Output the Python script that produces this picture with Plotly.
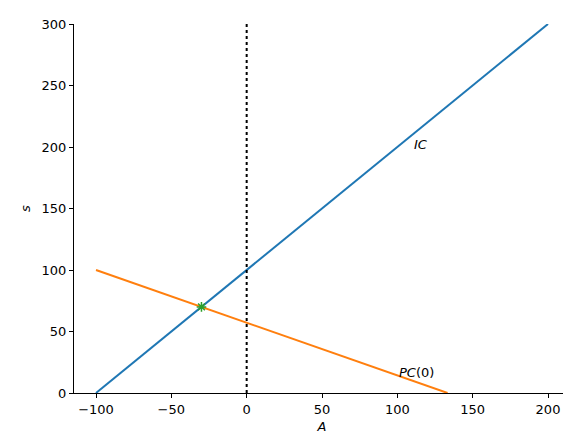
import plotly.graph_objects as go

# data
ic_A = [-100, 200]
ic_s = [0, 300]
pc_A = [-100, 133.33]
pc_s = [100, 0]
eq_A = [-30]
eq_s = [70]
vline_A = [0, 0]
vline_s = [0, 300]

fig = go.Figure()
fig.add_trace(go.Scatter(x=ic_A, y=ic_s, mode='lines', line=dict(color='#1f77b4', width=2)))
fig.add_trace(go.Scatter(x=pc_A, y=pc_s, mode='lines', line=dict(color='#ff7f0e', width=2)))
fig.add_trace(go.Scatter(x=vline_A, y=vline_s, mode='lines', line=dict(color='black', width=2, dash='dot')))
fig.add_trace(go.Scatter(x=eq_A, y=eq_s, mode='markers',
                         marker=dict(symbol='asterisk-open', size=8, color='#2ca02c', line=dict(width=1.5, color='#2ca02c'))))

fig.add_annotation(x=110, y=202, text='<i>IC</i>', showarrow=False, xanchor='left', font=dict(size=13, color='black'))
fig.add_annotation(x=100, y=17, text='<i>PC</i>(0)', showarrow=False, xanchor='left', font=dict(size=13, color='black'))

axis = dict(showgrid=False, zeroline=False, showline=True, linecolor='black', linewidth=1, automargin=False,
            ticks='outside', ticklen=4, tickcolor='black', tickfont=dict(size=13, color='black'))
fig.update_layout(
    width=571, height=438, showlegend=False,
    plot_bgcolor='white', paper_bgcolor='white',
    font=dict(family='DejaVu Sans', color='black'),
    margin=dict(l=66, r=9, t=16, b=53),
    xaxis=dict(axis, range=[-114.6, 214.6], tickvals=[-100, -50, 0, 50, 100, 150, 200],
               ticktext=['\u2212100', '\u221250', '0', '50', '100', '150', '200'],
               title=dict(text='<i>A</i>', font=dict(size=13), standoff=6)),
    yaxis=dict(axis, range=[0, 300], dtick=50,
               title=dict(text='<i>s</i>', font=dict(size=13), standoff=8)),
)
fig.write_html("out.html")
